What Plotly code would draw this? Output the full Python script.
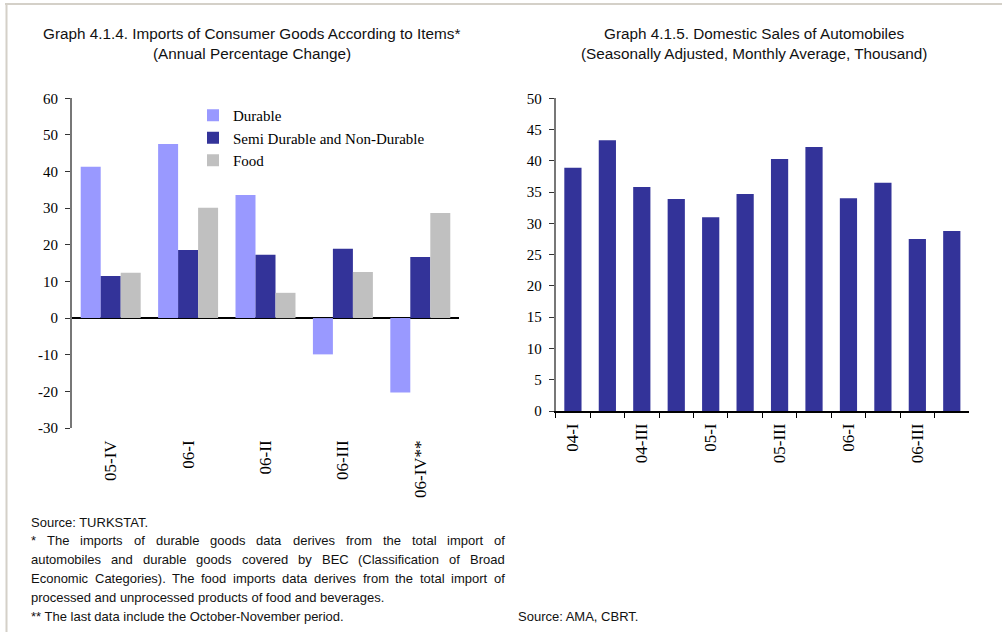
import plotly.graph_objects as go

# ---------------- data ----------------
import_cats = ["05-IV", "06-I", "06-II", "06-III", "06-IV**"]
durable = [41.3, 47.5, 33.6, -9.9, -20.3]
semi_durable = [11.5, 18.6, 17.3, 18.9, 16.7]
food = [12.4, 30.1, 6.9, 12.6, 28.7]

auto_cats = ["04-I", "04-II", "04-III", "04-IV", "05-I", "05-II",
             "05-III", "05-IV", "06-I", "06-II", "06-III", "06-IV"]
auto_sales = [38.9, 43.3, 35.8, 33.9, 31.0, 34.7, 40.3, 42.2, 34.0, 36.5, 27.5, 28.8]

left_y_ticks = [-30, -20, -10, 0, 10, 20, 30, 40, 50, 60]
right_y_ticks = [0, 5, 10, 15, 20, 25, 30, 35, 40, 45, 50]

title_left = ["Graph 4.1.4. Imports of Consumer Goods According to Items*",
              "(Annual Percentage Change)"]
title_right = ["Graph 4.1.5. Domestic Sales of Automobiles",
               "(Seasonally Adjusted, Monthly Average, Thousand)"]

notes_left = [
    ("Source: TURKSTAT.", False),
    ("* The imports of durable goods data derives from the total import of", True),
    ("automobiles and durable goods covered by BEC (Classification of Broad", True),
    ("Economic Categories). The food imports data derives from the total import of", True),
    ("processed and unprocessed products of food and beverages.", False),
    ("** The last data include the October-November period.", False),
]
note_right = "Source: AMA, CBRT."

# ---------------- layout helpers ----------------
W, H = 1002, 632
px = lambda x: x / W
py = lambda y: 1 - y / H

SERIF = "Liberation Serif, Times New Roman, serif"
SANS = "Liberation Sans, Arial, sans-serif"

# Arial / Liberation Sans advance widths (1/1000 em)
AW = {' ': 278, '!': 278, '"': 355, '#': 556, '$': 556, '%': 889, '&': 667, "'": 191,
      '(': 333, ')': 333, '*': 389, '+': 584, ',': 278, '-': 333, '.': 278, '/': 278,
      ':': 278, ';': 278, '?': 556,
      'A': 667, 'B': 667, 'C': 722, 'D': 722, 'E': 667, 'F': 611, 'G': 778, 'H': 722,
      'I': 278, 'J': 500, 'K': 667, 'L': 556, 'M': 833, 'N': 722, 'O': 778, 'P': 667,
      'Q': 778, 'R': 722, 'S': 667, 'T': 611, 'U': 722, 'V': 667, 'W': 944, 'X': 667,
      'Y': 667, 'Z': 611,
      'a': 556, 'b': 556, 'c': 500, 'd': 556, 'e': 556, 'f': 278, 'g': 556, 'h': 556,
      'i': 222, 'j': 222, 'k': 500, 'l': 222, 'm': 833, 'n': 556, 'o': 556, 'p': 556,
      'q': 556, 'r': 333, 's': 500, 't': 278, 'u': 556, 'v': 500, 'w': 722, 'x': 500,
      'y': 500, 'z': 500}
for d in "0123456789":
    AW[d] = 556


def text_em(s):
    return sum(AW.get(c, 556) for c in s) / 1000.0


# ---------------- figure ----------------
fig = go.Figure()

colors = {"Durable": "#9999FF", "Semi Durable and Non-Durable": "#333399", "Food": "#C0C0C0"}
for i, (name, vals) in enumerate([("Durable", durable),
                                  ("Semi Durable and Non-Durable", semi_durable),
                                  ("Food", food)]):
    fig.add_trace(go.Bar(x=import_cats, y=vals, name=name, marker_color=colors[name],
                         marker_line_width=0, xaxis="x", yaxis="y",
                         legendgroup=f"g{i}", hoverinfo="x+y+name"))

fig.add_trace(go.Bar(x=auto_cats, y=auto_sales, name="Domestic sales", marker_color="#333399",
                     marker_line_width=0, xaxis="x2", yaxis="y2", width=0.5,
                     showlegend=False))

ytick_font = dict(family=SERIF, size=15, color="black")
xtick_font = dict(family=SERIF, size=17, color="black")

fig.update_layout(
    width=W, height=H,
    margin=dict(l=0, r=0, t=0, b=0, autoexpand=False),
    paper_bgcolor="white", plot_bgcolor="white",
    barmode="group", bargap=0.225, bargroupgap=0,
    showlegend=True,
    legend=dict(x=px(193), y=py(99), xanchor="left", yanchor="top",
                font=dict(family=SERIF, size=15, color="black"),
                bgcolor="rgba(0,0,0,0)", itemwidth=30, traceorder="grouped",
                tracegroupgap=0, itemclick=False, itemdoubleclick=False),
    xaxis=dict(domain=[px(72), px(459)], anchor="y", type="category",
               showline=False, ticks="", tickangle=-90, tickfont=xtick_font,
               showgrid=False, zeroline=False, ticklabelstandoff=8, automargin=False),
    yaxis=dict(domain=[py(428), py(98.3)], anchor="x", range=[-30, 60],
               tickvals=left_y_ticks, ticktext=[str(v) for v in left_y_ticks],
               ticks="outside", ticklen=5, tickwidth=1,
               tickcolor="#333", showline=True, linecolor="#777", linewidth=2,
               showgrid=False, zeroline=True, zerolinecolor="black", zerolinewidth=1.5,
               tickfont=ytick_font, ticklabelstandoff=4, automargin=False),
    xaxis2=dict(domain=[px(555.7), px(969)], anchor="y2", type="category",
                tickvals=auto_cats,
                ticktext=[c if i % 2 == 0 else "" for i, c in enumerate(auto_cats)],
                tickson="boundaries", ticks="outside", ticklen=5, tickwidth=1,
                tickcolor="black", showline=True, linecolor="black", linewidth=1.5,
                tickangle=-90, tickfont=xtick_font, showgrid=False, zeroline=False,
                ticklabelstandoff=4, automargin=False),
    yaxis2=dict(domain=[py(411), py(98.3)], anchor="x2", range=[0, 50],
                tickvals=right_y_ticks, ticks="outside", ticklen=5, tickwidth=1,
                tickcolor="#333", showline=True, linecolor="#777", linewidth=2,
                showgrid=False, zeroline=False, tickfont=ytick_font, ticklabelstandoff=4,
                automargin=False),
)

annotations = []
title_font = dict(family=SANS, size=15.3, color="#111")
for k, line in enumerate(title_left):
    annotations.append(dict(text=line, x=px(252), y=py(33 + 20.5 * k), xref="paper", yref="paper",
                            xanchor="center", yanchor="middle", showarrow=False, font=title_font))
for k, line in enumerate(title_right):
    annotations.append(dict(text=line, x=px(754), y=py(33 + 20.5 * k), xref="paper", yref="paper",
                            xanchor="center", yanchor="middle", showarrow=False, font=title_font))

# footnotes, justified lines laid out word by word
x_left, x_right = 29, 503
max_em = max(text_em(t) for t, _ in notes_left)
note_size = min(13.0, (x_right - x_left) / max_em * 0.985)
note_font = dict(family=SANS, size=note_size, color="#111")
for k, (line, justify) in enumerate(notes_left):
    yy = py(522 + 18.8 * k)
    if not justify:
        annotations.append(dict(text=line, x=px(x_left), y=yy, xref="paper", yref="paper",
                                xanchor="left", yanchor="middle", showarrow=False, font=note_font))
        continue
    words = line.split(" ")
    wpx = [text_em(w) * note_size for w in words]
    gap = (x_right - x_left - sum(wpx)) / (len(words) - 1)
    xx = x_left
    for w, ww in zip(words, wpx):
        annotations.append(dict(text=w, x=px(xx), y=yy, xref="paper", yref="paper",
                                xanchor="left", yanchor="middle", showarrow=False, font=note_font))
        xx += ww + gap

annotations.append(dict(text=note_right, x=px(516), y=py(616), xref="paper", yref="paper",
                        xanchor="left", yanchor="middle", showarrow=False, font=note_font))

fig.update_layout(annotations=annotations)

# page frame lines
fig.update_layout(shapes=[
    dict(type="line", xref="paper", yref="paper", x0=px(5), x1=1, y0=py(4), y1=py(4),
         line=dict(color="#d4d0c8", width=2)),
    dict(type="line", xref="paper", yref="paper", x0=px(6.5), x1=px(6.5), y0=py(4), y1=0,
         line=dict(color="#d4d0c8", width=2)),
])

fig.write_html("out.html", config={"displayModeBar": False, "responsive": False},
               post_script="document.body.style.margin='0';")
